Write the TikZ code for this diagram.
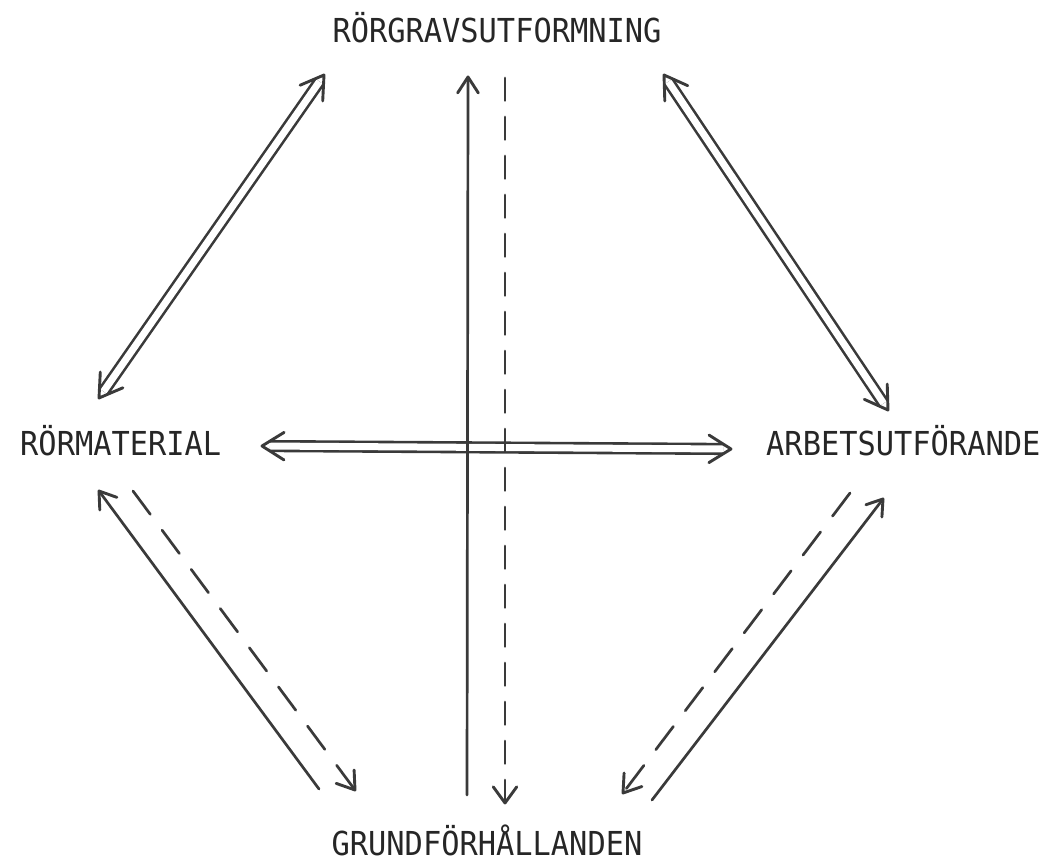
\documentclass[tikz,border=0pt]{standalone}
\usepackage{fontspec}
\newfontfamily\labelfont[FakeStretch=0.92]{DejaVu Sans Mono}
\usetikzlibrary{calc}
\definecolor{ink}{HTML}{3A3A3A}
\definecolor{txt}{HTML}{262626}
\tikzset{
  lbl/.style={font=\labelfont\fontsize{33}{33}\selectfont, text=txt, inner sep=0pt},
  shaft/.style={draw=ink, line width=2.6pt, double=white, double distance=7pt,
                shorten <=8pt, shorten >=8pt},
  wire/.style={draw=ink, line width=2.7pt, line cap=round},
  dashwire/.style={wire, dash pattern=#1},
  chev/.style={draw=ink, line width=2.9pt, line cap=round, line join=round},
}
% open V head at #1, pointing away from #2; arm length #3, half-angle #4
\newcommand\chevron[4]{%
  \draw[chev] ($(#1)!#3!#4:(#2)$) -- (#1) -- ($(#1)!#3!-#4:(#2)$);}
% double-line shaft with a head at each end
\newcommand\dblarrow[2]{%
  \draw[shaft] (#1) -- (#2);
  \chevron{#1}{#2}{26pt}{32}\chevron{#2}{#1}{26pt}{32}}
\begin{document}
\begin{tikzpicture}[x=1pt,y=-1pt]
\useasboundingbox (0,0) rectangle (1056,862);

% labels
\node[lbl, anchor=base] (top) at (497,42) {RÖRGRAVSUTFORMNING};
\node[lbl, anchor=base west] (lft) at (20,455) {RÖRMATERIAL};
\node[lbl, anchor=base west] (rgt) at (766,455) {ARBETSUTFÖRANDE};
\node[lbl, anchor=base] (bot) at (487,855) {GRUNDFÖRHÅLLANDEN};

% arrow end points
\coordinate (ulA) at (99,398);   \coordinate (ulB) at (324,75);
\coordinate (urA) at (664,75);   \coordinate (urB) at (888,410);
\coordinate (hA)  at (262,446);  \coordinate (hB)  at (731,449);
\coordinate (vS0) at (467,795);  \coordinate (vS1) at (468,77);
\coordinate (vD0) at (505,78);   \coordinate (vD1) at (505,803);
\coordinate (lS0) at (319,789);  \coordinate (lS1) at (99,491);
\coordinate (lD0) at (133,491);  \coordinate (lD1) at (355,790);
\coordinate (rS0) at (652,800);  \coordinate (rS1) at (883,499);
\coordinate (rD0) at (850,493);  \coordinate (rD1) at (623,793);

% two-way links
\dblarrow{ulA}{ulB}
\dblarrow{urA}{urB}
\dblarrow{hA}{hB}

% vertical links
\draw[wire] (vS0) -- (vS1);
\chevron{vS1}{vS0}{19pt}{33}
\draw[dashwire={on 22.5pt off 16.5pt}] (vD0) -- (vD1);
\chevron{vD1}{vD0}{20pt}{36}

% lower left links
\draw[wire] (lS0) -- (lS1);
\chevron{lS1}{lS0}{19pt}{34}
\draw[dashwire={on 29pt off 19.8pt}] (lD0) -- (lD1);
\chevron{lD1}{lD0}{20pt}{34}

% lower right links
\draw[wire] (rS0) -- (rS1);
\chevron{rS1}{rS0}{18pt}{34}
\draw[dashwire={on 29pt off 19.8pt}] (rD0) -- (rD1);
\chevron{rD1}{rD0}{20pt}{34}
\end{tikzpicture}
\end{document}
